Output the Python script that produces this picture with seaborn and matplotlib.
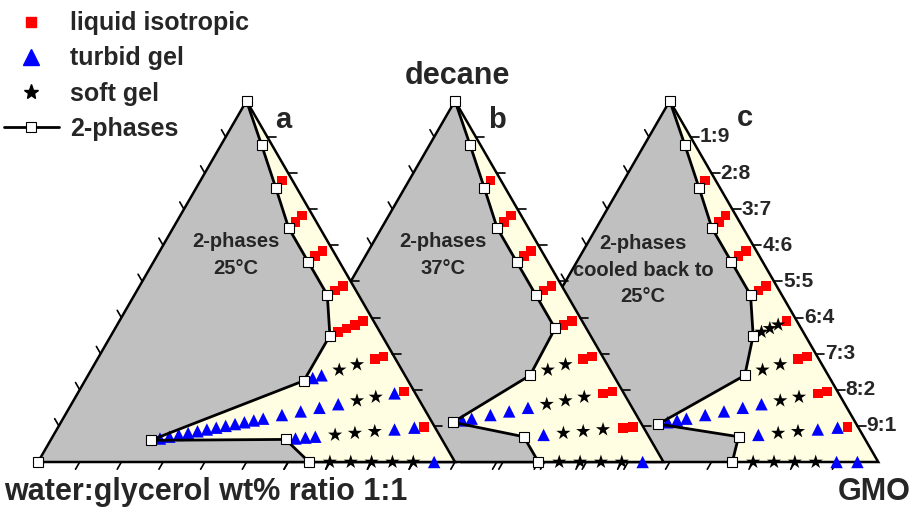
import numpy as np
import matplotlib
matplotlib.use("Agg")
import matplotlib.pyplot as plt
import seaborn as sns
from matplotlib.lines import Line2D

sns.set_theme(style="white")
plt.rcParams['font.family'] = ['Liberation Sans', 'DejaVu Sans']
plt.rcParams['font.weight'] = 'bold'

# ---------------- data ----------------
# k = GMO:decane dilution line (GMO tenths; 0 = decane vertex, 10 = GMO/water base)
# values = water (water:glycerol 1:1) wt% along that line
ratio_labels = ["1:9", "2:8", "3:7", "4:6", "5:5", "6:4", "7:3", "8:2", "9:1"]
panel_letters = ["a", "b", "c"]
panel_titles = ["2-phases\n25°C", "2-phases\n37°C", "2-phases\ncooled back to\n25°C"]

boundary_k = [0, 1, 2, 3, 4, 5, 6, 7, 8, 9, 10]
a_boundary_water = [0, 2.5, 5, 7.5, 7.5, 7.5, 12.5, 25, 70, 37.5, 35]
b_boundary_water = [0, 2.5, 5, 7.5, 7.5, 7.5, 7.5, 20, 45, 30, 30]
c_boundary_water = [0, 2.5, 5, 7.5, 7.5, 7.5, 12.5, 20, 47.5, 30, 35]

a_liquid_k = [2, 3, 3, 4, 4, 5, 5, 6, 6, 6, 6, 7, 7, 8, 9]
a_liquid_water = [2.5, 2.5, 5, 2.5, 5, 2.5, 5, 2.5, 5, 7.5, 10, 2.5, 5, 2.5, 2.5]
a_turbid_k = [7, 7] + [8] * 17 + [9] * 5 + [10]
a_turbid_water = [20, 22.5,
                  5, 20, 25, 30, 35, 40, 42.5, 45, 47.5, 50, 52.5, 55, 57.5, 60, 62.5, 65, 67.5,
                  5, 10, 30, 32.5, 35,
                  5]
a_soft_k = [7, 7, 8, 8, 9, 9, 9, 10, 10, 10, 10, 10]
a_soft_water = [10, 15, 10, 15, 15, 20, 25, 10, 15, 20, 25, 30]

b_liquid_k = [2, 3, 3, 4, 4, 5, 5, 6, 6, 7, 7, 8, 8, 9, 9]
b_liquid_water = [2.5, 2.5, 5, 2.5, 5, 2.5, 5, 2.5, 5, 2.5, 5, 2.5, 5, 2.5, 5]
b_turbid_k = [8, 8, 8, 8, 8, 9, 10]
b_turbid_water = [25, 30, 35, 40, 42.5, 25, 5]
b_soft_k = [7, 7, 8, 8, 8, 9, 9, 9, 10, 10, 10, 10]
b_soft_water = [10, 15, 10, 15, 20, 10, 15, 20, 10, 15, 20, 25]

c_liquid_k = [2, 3, 3, 4, 4, 5, 5, 6, 7, 7, 8, 8, 9]
c_liquid_water = [2.5, 2.5, 5, 2.5, 5, 2.5, 5, 2.5, 2.5, 5, 2.5, 5, 2.5]
c_turbid_k = [8] * 7 + [9, 9, 9] + [10, 10]
c_turbid_water = [20, 25, 30, 35, 40, 42.5, 45, 5, 10, 25, 5, 10]
c_soft_k = [6, 6, 6, 7, 7, 8, 8, 9, 9, 10, 10, 10, 10]
c_soft_water = [5, 7.5, 10, 10, 15, 10, 15, 15, 20, 15, 20, 25, 30]

panels = [
    (a_boundary_water, a_liquid_k, a_liquid_water, a_turbid_k, a_turbid_water, a_soft_k, a_soft_water),
    (b_boundary_water, b_liquid_k, b_liquid_water, b_turbid_k, b_turbid_water, b_soft_k, b_soft_water),
    (c_boundary_water, c_liquid_k, c_liquid_water, c_turbid_k, c_turbid_water, c_soft_k, c_soft_water),
]

# ---------------- layout ----------------
W, H, DPI = 913, 509, 100
S = 417.0             # side length in px
X0, Y0 = 38.0, 462.0  # left vertex of panel a in px
offsets = [0.0, 0.5, 1.015]
H3 = np.sqrt(3) / 2
GRAY = "#c0c0c0"
CREAM = "#fffde2"


def tern(k, w, off):
    k = np.asarray(k, float)
    w = np.asarray(w, float)
    frac = 1 - w / 100.0
    g = frac * k / 10.0
    d = frac * (10 - k) / 10.0
    return off + g + d / 2.0, d * H3


def px(xp, yp):
    return (xp - X0) / S, (Y0 - yp) / S


fig = plt.figure(figsize=(W / DPI, H / DPI), dpi=DPI)
ax = fig.add_axes([0, 0, 1, 1])
ax.set_xlim(-X0 / S, (W - X0) / S)
ax.set_ylim(-(H - Y0) / S, Y0 / S)
ax.axis("off")

letter_px = [(283, 120), (497, 120), (745, 118)]
tl = 0.02
for i, off in enumerate(offsets):
    z = 10 * (3 - i)
    bw, lk, lw_, tk, tw, sk, sw = panels[i]
    tri_x = [off, off + 1, off + 0.5, off]
    tri_y = [0, 0, H3, 0]
    ax.fill(tri_x, tri_y, color=GRAY, zorder=z, lw=0)
    bx, by = tern(boundary_k, bw, off)
    poly_x = list(bx) + [off + 1]
    poly_y = list(by) + [0]
    ax.fill(poly_x, poly_y, color=CREAM, zorder=z + 1, lw=0)
    ax.plot(tri_x, tri_y, color="black", lw=1.8, zorder=z + 2, solid_joinstyle="miter")
    for t in np.arange(1, 10) / 10.0:
        bxp = off + t
        ax.plot([bxp, bxp - 0.5 * tl], [0, -H3 * tl], color="black", lw=1.2, zorder=z + 2)
        rx = off + (1 - t) + t / 2
        ry = t * H3
        ax.plot([rx, rx + tl], [ry, ry], color="black", lw=1.2, zorder=z + 2)
        lx = off + t / 2
        ly = t * H3
        ax.plot([lx, lx - 0.5 * tl], [ly, ly + H3 * tl], color="black", lw=1.2, zorder=z + 2)
    sns.lineplot(x=bx, y=by, sort=False, estimator=None, color="black", lw=2.0,
                 marker="s", markersize=6.5, markerfacecolor="white", markeredgecolor="black",
                 markeredgewidth=0.8, ax=ax, zorder=z + 5, legend=False)
    if i == 0:
        wx, wy = tern([0], [100], off)
        ax.plot(wx, wy, marker="s", ms=6.5, mfc="white", mec="black", mew=0.8, zorder=z + 5)
    x, y = tern(lk, lw_, off)
    sns.scatterplot(x=x, y=y, marker="s", color="#ff0000", s=48, edgecolor="none", ax=ax, zorder=z + 4)
    x, y = tern(tk, tw, off)
    sns.scatterplot(x=x, y=y, marker="^", color="#0000ff", s=80, edgecolor="none", ax=ax, zorder=z + 4)
    x, y = tern(sk, sw, off)
    sns.scatterplot(x=x, y=y, marker="*", color="black", s=115, edgecolor="none", ax=ax, zorder=z + 4)
    lxp, lyp = px(*letter_px[i])
    ax.text(lxp, lyp, panel_letters[i], fontsize=21, fontweight="bold",
            ha="center", va="center", zorder=40)

for (xp, yp), title in zip([(236, 255), (443, 255), (643, 270)], panel_titles):
    tx, ty = px(xp, yp)
    ax.text(tx, ty, title, fontsize=14.5, fontweight="bold", ha="center", va="center",
            linespacing=1.5, zorder=40)

for j, lab in enumerate(ratio_labels):
    k = j + 1
    ex, ey = tern([k], [0], offsets[2])
    ax.text(ex[0] + tl + 0.002, ey[0], lab, fontsize=15, fontweight="bold",
            ha="left", va="center", zorder=40)

tx, ty = px(457, 76)
ax.text(tx, ty, "decane", fontsize=22, fontweight="bold", ha="center", va="center")
tx, ty = px(4, 492)
ax.text(tx, ty, "water:glycerol wt% ratio 1:1", fontsize=22, fontweight="bold", ha="left", va="center")
tx, ty = px(911, 492)
ax.text(tx, ty, "GMO", fontsize=22, fontweight="bold", ha="right", va="center")

handles = [
    Line2D([], [], ls="none", marker="s", color="#ff0000", ms=7.5),
    Line2D([], [], ls="none", marker="^", color="#0000ff", ms=11),
    Line2D([], [], ls="none", marker="*", color="black", ms=11),
    Line2D([], [], color="black", lw=2, marker="s", ms=7.5, mfc="white", mec="black", mew=0.8),
]
labels = ["liquid isotropic", "turbid gel", "soft gel", "2-phases"]
leg = ax.legend(handles, labels, loc="upper left", bbox_to_anchor=(0.003, 1 - 10 / H),
                frameon=False, fontsize=18, handlelength=2.2, handletextpad=0.45,
                labelspacing=0.45, borderaxespad=0.0, borderpad=0.05)
leg.set_zorder(50)
for t in leg.get_texts():
    t.set_fontweight("bold")

fig.savefig("out.png", dpi=DPI)
